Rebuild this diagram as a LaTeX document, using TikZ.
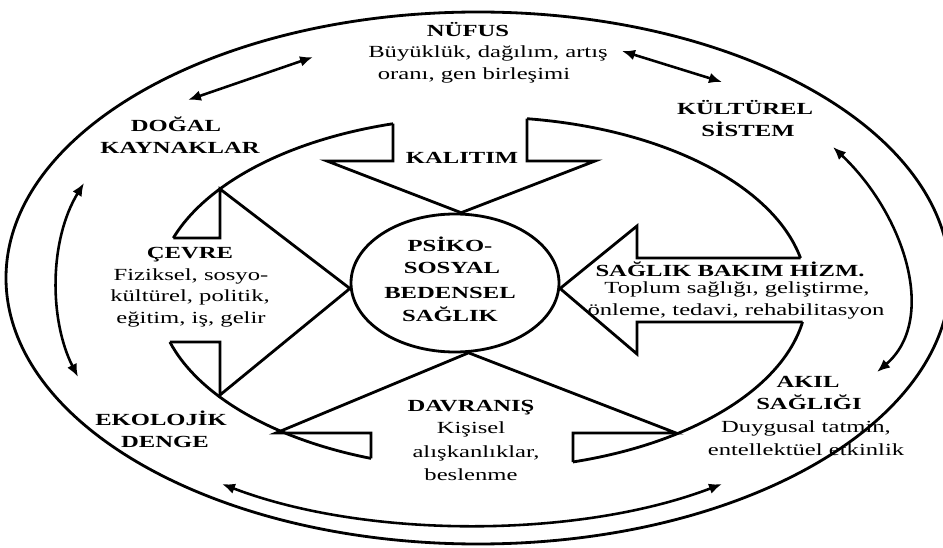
\documentclass[tikz,border=0pt]{standalone}
\usepackage{fontspec}
\setmainfont{Liberation Serif}[FakeStretch=1.45]
\usetikzlibrary{arrows.meta,shapes.geometric}

\begin{document}
\begin{tikzpicture}[x=0.3mm,y=0.3mm,yscale=-1,
  ring/.style={line width=2.4pt},
  bigarrow/.style={line width=2.4pt, line join=miter},
  link/.style={line width=2.2pt,
    {Latex[length=3.9mm,width=3.2mm]}-{Latex[length=3.9mm,width=3.2mm]}},
  txt/.style={anchor=base, inner sep=0pt, font=\fontsize{14.5pt}{18pt}\selectfont},
  caps/.style={txt, font=\fontsize{14.5pt}{18pt}\selectfont\bfseries},
]
% canvas
\fill[white] (0,0) rectangle (943,548);
\useasboundingbox (0,0) rectangle (943,548);
\clip (0,0) rectangle (943,548);

% outer ring
\draw[ring] (478,278) ellipse [x radius=472, y radius=266];

% inner ring, open where the four arrow shafts leave it
\draw[ring] (482,293) ++(-82.04:325 and 176)
  arc[start angle=-82.04, end angle=-11.47, x radius=325, y radius=176];
\draw[ring] (482,293) ++(9.48:325 and 176)
  arc[start angle=9.48, end angle=73.74, x radius=325, y radius=176];
\draw[ring] (482,293) ++(109.97:325 and 176)
  arc[start angle=109.97, end angle=163.83, x radius=325, y radius=176];
\draw[ring] (482,293) ++(198.21:325 and 176)
  arc[start angle=198.21, end angle=254.11, x radius=325, y radius=176];

% shaft ends on the inner ring
\coordinate (topL) at (393,123.7);
\coordinate (topR) at (527,118.7);
\coordinate (rgtT) at (800.5,258);
\coordinate (rgtB) at (802.6,322);
\coordinate (botR) at (573,462);
\coordinate (botL) at (371,458.4);
\coordinate (lftB) at (169.9,342);
\coordinate (lftT) at (173.3,238);

% centre
\node[draw, ring, ellipse, minimum width=62.4mm, minimum height=41.4mm, inner sep=0pt]
  (core) at (455,283) {};

% four block arrows pointing at the centre
\draw[bigarrow] (topL) -- (393,161) -- (327,161) -- (core.85)
  -- (595,161) -- (527,161) -- (topR);
\draw[bigarrow] (rgtT) -- (637,258) -- (637,226) -- (core.-3)
  -- (637,354) -- (637,322) -- (rgtB);
\draw[bigarrow] (botR) -- (573,433) -- (676,433) -- (core.-79)
  -- (276,433) -- (371,433) -- (botL);
\draw[bigarrow] (lftB) -- (220,342) -- (220,395) -- (core.183)
  -- (220,189) -- (220,238) -- (lftT);

% labels
\node[caps] (nufus) at (468,37) {NÜFUS};
\node[txt] (nufusA) at (488,58) {Büyüklük, dağılım, artış};
\node[txt] (nufusB) at (474,80) {oranı, gen birleşimi};

\node[caps] (kultur) at (745,115) {KÜLTÜREL};
\node[caps] (kulturB) at (748,137) {SİSTEM};

\node[caps] (dogal) at (176,132) {DOĞAL};
\node[caps] (dogalB) at (180,154) {KAYNAKLAR};

\node[caps] (kalitim) at (462,164) {KALITIM};

\node[caps] (cevre) at (190,259) {ÇEVRE};
\node[txt] (cevreA) at (191,280) {Fiziksel, sosyo-};
\node[txt] (cevreB) at (190,302) {kültürel, politik,};
\node[txt] (cevreC) at (191,323) {eğitim, iş, gelir};

\node[caps] (coreA) at (450,252) {PSİKO-};
\node[caps] (coreB) at (452,274) {SOSYAL};
\node[caps] (coreC) at (450,298) {BEDENSEL};
\node[caps] (coreD) at (450,321) {SAĞLIK};

\node[caps] (bakim) at (730,277) {SAĞLIK BAKIM HİZM.};
\node[txt] (bakimA) at (737,293) {Toplum sağlığı, geliştirme,};
\node[txt] (bakimB) at (736,315) {önleme, tedavi, rehabilitasyon};

\node[caps] (akil) at (808,387) {AKIL};
\node[caps] (akilB) at (809,409) {SAĞLIĞI};
\node[txt] (akilC) at (806,432) {Duygusal tatmin,};
\node[txt] (akilD) at (806,455) {entellektüel etkinlik};

\node[caps] (eko) at (161,425) {EKOLOJİK};
\node[caps] (ekoB) at (165,447) {DENGE};

\node[caps] (davranis) at (471,411) {DAVRANIŞ};
\node[txt] (davA) at (471,433) {Kişisel};
\node[txt] (davB) at (476,457) {alışkanlıklar,};
\node[txt] (davC) at (471,480) {beslenme};

% two-way links between the outer factors
\coordinate (n2d) at (313,57);   \coordinate (d2n) at (188,100);
\coordinate (n2k) at (622,51);   \coordinate (k2n) at (722,82);
\coordinate (d2e) at (84,183);   \coordinate (e2d) at (78,377);
\coordinate (k2a) at (833,147);  \coordinate (a2k) at (877,372);
\coordinate (e2a) at (222,484);  \coordinate (a2e) at (722,484);

\draw[link] (n2d) -- (d2n);
\draw[link] (n2k) -- (k2n);
\draw[link] (d2e) .. controls (49,240) and (49,320) .. (e2d);
\draw[link] (k2a) .. controls (905,215) and (938,320) .. (a2k);
\draw[link] (e2a) .. controls (366,539) and (578,539) .. (a2e);
\end{tikzpicture}
\end{document}
